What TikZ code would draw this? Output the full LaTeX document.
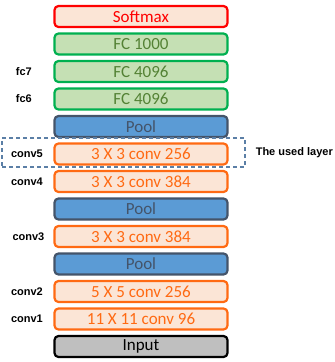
\documentclass[tikz,border=0pt]{standalone}
\usepackage{fontspec}
\setmainfont{Carlito}
\newfontfamily\labelfont{Liberation Sans}
\usetikzlibrary{positioning}

\definecolor{boxpink}{HTML}{FBE5D6}
\definecolor{fcfill}{HTML}{C5E0B4}
\definecolor{fcdraw}{HTML}{00B050}
\definecolor{fctext}{HTML}{548235}
\definecolor{poolfill}{HTML}{5B9BD5}
\definecolor{pooldraw}{HTML}{44546A}
\definecolor{convorange}{HTML}{FF6A13}
\definecolor{inputfill}{HTML}{BFBFBF}
\definecolor{dashblue}{HTML}{5B7FA6}

\tikzset{
  layer/.style={draw, rounded corners=4pt, line width=2.2pt, minimum width=173pt,
    minimum height=21pt, inner sep=0pt, outer sep=0pt, font=\fontsize{17}{19}\selectfont},
  softmaxbox/.style={layer, draw=red, fill=boxpink, text=red},
  fcbox/.style={layer, draw=fcdraw, fill=fcfill, text=fctext},
  poolbox/.style={layer, draw=pooldraw, fill=poolfill, text=pooldraw},
  convbox/.style={layer, draw=convorange, fill=boxpink, text=convorange},
  inputbox/.style={layer, draw=black, fill=inputfill, text=black},
  lbl/.style={inner sep=0pt, font=\labelfont\bfseries\fontsize{11}{13}\selectfont},
  usedbox/.style={draw=dashblue, line width=1.2pt, dash pattern=on 4pt off 3pt}
}

\begin{document}
\begin{tikzpicture}[x=1pt, y=1pt, node distance=6.5pt]
    \useasboundingbox (0,0) rectangle (335,-362);

    % network layers, top to bottom
    \node [softmaxbox] (softmax) at (141,-16.5) {Softmax};
    \node [fcbox, below=of softmax] (fcthousand) {FC 1000};
    \node [fcbox, below=of fcthousand] (fcseven) {FC 4096};
    \node [fcbox, below=of fcseven] (fcsix) {FC 4096};
    \node [poolbox, below=of fcsix] (poolthree) {Pool};
    \node [convbox, below=of poolthree] (convfive) {3 X 3 conv 256};
    \node [convbox, below=of convfive] (convfour) {3 X 3 conv 384};
    \node [poolbox, below=of convfour] (pooltwo) {Pool};
    \node [convbox, below=of pooltwo] (convthree) {3 X 3 conv 384};
    \node [poolbox, below=of convthree] (poolone) {Pool};
    \node [convbox, below=of poolone] (convtwo) {5 X 5 conv 256};
    \node [convbox, below=of convtwo] (convone) {11 X 11 conv 96};
    \node [inputbox, below=of convone] (input) {Input};

    % layer names
    \node [lbl, left=22.5pt of fcseven] (fc7lbl) {fc7};
    \node [lbl, left=22.5pt of fcsix] (fc6lbl) {fc6};
    \node [lbl, left=11.5pt of convfive] (conv5lbl) {conv5};
    \node [lbl, left=11.5pt of convfour] (conv4lbl) {conv4};
    \node [lbl, left=10pt of convthree] (conv3lbl) {conv3};
    \node [lbl, left=11.5pt of convtwo] (conv2lbl) {conv2};
    \node [lbl, left=11.5pt of convone] (conv1lbl) {conv1};

    % highlighted layer
    \node [usedbox, minimum width=243pt, minimum height=29pt, inner sep=0pt]
      (usedlayer) at ([xshift=-17.5pt, yshift=1.5pt]convfive.center) {};
    \node [lbl, right=10pt of usedlayer] (usedlbl) {The used layer};

\end{tikzpicture}
\end{document}
